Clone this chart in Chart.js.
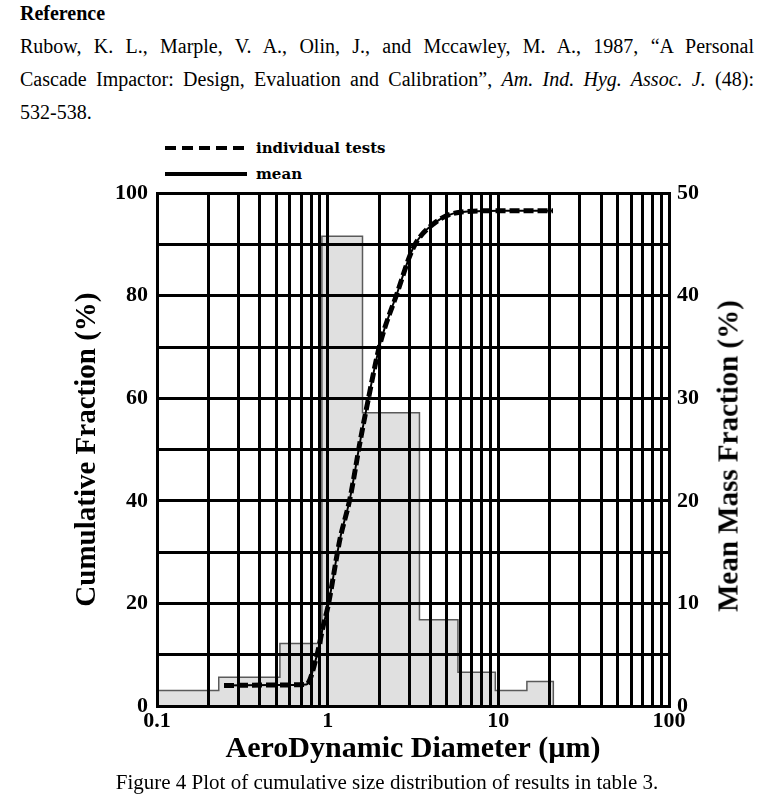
<!DOCTYPE html>
<html>
<head>
<meta charset="utf-8">
<script src="https://cdn.jsdelivr.net/npm/chart.js@4.4.1/dist/chart.umd.min.js"></script>
<style>
  body { margin: 0; background: #fff; width: 774px; height: 812px; position: relative; overflow: hidden; font-family: "Liberation Serif", serif; color: #000; }
  #ref { position: absolute; left: 20px; top: -3px; width: 734px; font-size: 20px; line-height: 33px; }
  #ref .just { text-align: justify; text-align-last: justify; }
  #legend { position: absolute; left: 165px; top: 135px; font-family: "DejaVu Serif", serif; font-weight: bold; font-size: 15px; }
  #legend div { height: 26px; display: flex; align-items: center; }
  #legend svg { margin-right: 9px; }
  #wrap { position: absolute; left: 0; top: 171px; width: 774px; height: 604px; }
  #rtitle { position: absolute; left: 728px; top: 456px; transform: translate(-50%, -50%) rotate(-90deg); white-space: nowrap; font-weight: bold; font-size: 29px; }
  #caption { position: absolute; left: 0; width: 774px; top: 770px; text-align: center; font-size: 21px; }
</style>
</head>
<body>
<div id="ref">
  <div><b>Reference</b></div>
  <div class="just">Rubow, K. L., Marple, V. A., Olin, J., and Mccawley, M. A., 1987, “A Personal</div>
  <div class="just">Cascade Impactor: Design, Evaluation and Calibration”, <i>Am. Ind. Hyg. Assoc. J.</i> (48):</div>
  <div>532-538.</div>
</div>
<div id="legend">
  <div><svg width="82" height="6"><line x1="0" y1="3" x2="80" y2="3" stroke="#000" stroke-width="4" stroke-dasharray="11 6"/></svg>individual tests</div>
  <div><svg width="82" height="6"><line x1="0" y1="3" x2="82" y2="3" stroke="#000" stroke-width="4"/></svg>mean</div>
</div>
<div id="wrap"><canvas id="chart" width="774" height="604"></canvas></div>
<div id="rtitle">Mean Mass Fraction (%)</div>
<div id="caption">Figure 4 Plot of cumulative size distribution of results in table 3.</div>

<script>
// size bins (µm) and mean mass fraction per bin (%), right axis
const binEdges = [0.1, 0.23, 0.525, 0.925, 1.6, 3.45, 5.8, 9.6, 14.7, 21];
const massFraction = [1.5, 2.8, 6.1, 45.8, 28.6, 8.4, 3.3, 1.5, 2.4];

// cumulative fraction curve (%), left axis
const diameters = [0.247, 0.5, 0.75, 0.862, 0.94, 1.004, 1.18, 1.35, 1.55, 1.72, 2.02, 2.54, 3.18, 4.16, 5.96, 10.2, 20.9];
const meanCum = [4.0, 4.1, 4.2, 9.7, 15.5, 19.4, 32.5, 40.4, 51.6, 59.4, 70.4, 80.3, 89.4, 94.0, 96.3, 96.6, 96.6];
const testCum = [4.0, 4.1, 4.2, 9.7, 15.5, 19.4, 32.5, 40.4, 51.6, 59.4, 70.4, 80.3, 89.4, 94.0, 96.3, 96.6, 96.6];

// log grid lines on x, and which ones get a label
const xTicks = [0.1, 0.2, 0.3, 0.4, 0.5, 0.6, 0.7, 0.8, 0.9, 1, 2, 3, 4, 5, 6, 7, 8, 9, 10, 20, 30, 40, 50, 60, 70, 80, 90, 100];
const xLabels = [0.1, 1, 10, 100];

const histPoints = binEdges.map((x, i) => ({x: x, y: i < massFraction.length ? massFraction[i] : 0}));
const meanPoints = diameters.map((x, i) => ({x: x, y: meanCum[i]}));
const testPoints = diameters.map((x, i) => ({x: x, y: testCum[i]}));

const tickFont = {family: 'Liberation Serif', weight: 'bold', size: 22};
const titleFont = {family: 'Liberation Serif', weight: 'bold', size: 29};

new Chart(document.getElementById('chart'), {
  type: 'line',
  data: {
    datasets: [{
      label: 'mean',
      data: meanPoints,
      yAxisID: 'y',
      borderColor: '#000',
      borderWidth: 2,
      pointRadius: 0,
      cubicInterpolationMode: 'monotone',
      order: 1
    }, {
      label: 'individual tests',
      data: testPoints,
      yAxisID: 'y',
      borderColor: '#000',
      borderWidth: 5,
      borderDash: [10, 4],
      pointRadius: 0,
      cubicInterpolationMode: 'monotone',
      order: 2
    }, {
      label: 'mean mass fraction',
      data: histPoints,
      yAxisID: 'y2',
      stepped: 'before',
      fill: 'origin',
      backgroundColor: '#e0e0e0',
      borderColor: '#5a5a5a',
      borderWidth: 1.5,
      pointRadius: 0,
      order: 3
    }]
  },
  options: {
    responsive: false,
    animation: false,
    layout: {padding: 0},
    plugins: {legend: {display: false}, tooltip: {enabled: false}},
    scales: {
      x: {
        type: 'logarithmic',
        min: 0.1,
        max: 100,
        afterBuildTicks: scale => { scale.ticks = xTicks.map(v => ({value: v})); },
        afterFit: scale => { scale.height = 69; },
        grid: {color: '#000', lineWidth: 3, drawTicks: false, z: 1},
        border: {color: '#000', width: 3, z: 1},
        ticks: {
          color: '#000', font: tickFont, padding: 2, autoSkip: false, maxRotation: 0,
          callback: v => xLabels.includes(v) ? String(v) : ''
        },
        title: {display: true, text: 'AeroDynamic Diameter (µm)', color: '#000', font: {family: 'Liberation Serif', weight: 'bold', size: 30}, padding: {top: 0, bottom: 8}}
      },
      y: {
        position: 'left',
        min: 0,
        max: 100,
        afterFit: scale => { scale.width = 157; },
        grid: {color: '#000', lineWidth: 3, drawTicks: false, z: 1},
        border: {color: '#000', width: 3, z: 1},
        ticks: {color: '#000', font: tickFont, padding: 9, stepSize: 10, callback: v => v % 20 === 0 ? v : ''},
        title: {display: true, text: 'Cumulative Fraction (%)', color: '#000', font: titleFont, padding: {top: 70, bottom: 0}}
      },
      y2: {
        position: 'right',
        min: 0,
        max: 50,
        afterFit: scale => { scale.width = 105; },
        grid: {display: false},
        border: {color: '#000', width: 3, z: 1},
        ticks: {color: '#000', font: tickFont, padding: 0, stepSize: 10}
      }
    }
  }
});
</script>
</body>
</html>
